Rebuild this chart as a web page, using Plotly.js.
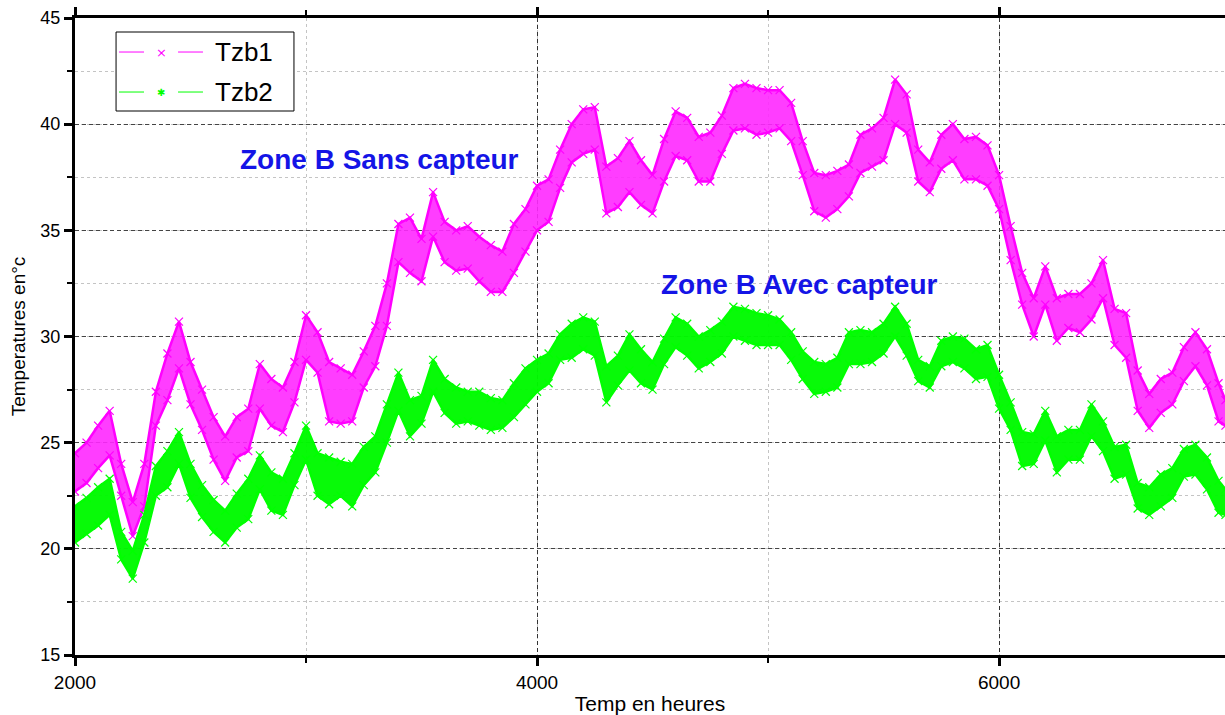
<!DOCTYPE html>
<html>
<head>
<meta charset="utf-8">
<script src="https://cdn.plot.ly/plotly-3.0.1.min.js"></script>
<style>html,body{margin:0;padding:0;background:#fff;overflow:hidden;}#chart{width:1225px;height:715px;}</style>
</head>
<body>
<div id="chart"></div>
<script>
// Sample times (hours)
const hours = [
 2000,2050,2100,2150,2200,2250,2300,2350,2400,2450,
 2500,2550,2600,2650,2700,2750,2800,2850,2900,2950,
 3000,3050,3100,3150,3200,3250,3300,3350,3400,3450,
 3500,3550,3600,3650,3700,3750,3800,3850,3900,3950,
 4000,4050,4100,4150,4200,4250,4300,4350,4400,4450,
 4500,4550,4600,4650,4700,4750,4800,4850,4900,4950,
 5000,5050,5100,5150,5200,5250,5300,5350,5400,5450,
 5500,5550,5600,5650,5700,5750,5800,5850,5900,5950,
 6000,6050,6100,6150,6200,6250,6300,6350,6400,6450,
 6500,6550,6600,6650,6700,6750,6800,6850,6900,6950,
 6980];

// Tzb1 (zone B sans capteur): daily max / daily min envelope
const tzb1High = [
 24.5,25.0,25.8,26.5,24.0,22.2,24.0,27.4,29.2,30.7,
 28.8,27.5,26.2,25.3,26.2,26.6,28.7,28.0,27.6,28.8,
 31.0,30.2,28.8,28.5,28.2,29.3,30.5,32.5,35.3,35.6,
 34.6,36.8,35.4,35.0,35.2,34.7,34.3,34.0,35.3,36.0,
 37.1,37.4,38.8,40.0,40.7,40.8,38.0,38.4,39.2,38.3,
 37.6,39.3,40.6,40.3,39.4,39.6,40.4,41.7,41.9,41.7,
 41.6,41.6,41.0,39.2,37.7,37.6,37.8,38.1,39.5,39.8,
 40.3,42.1,41.4,38.8,38.2,39.5,40.0,39.3,39.4,39.0,
 37.6,35.2,33.0,31.8,33.3,31.8,32.0,32.0,32.5,33.6,
 31.3,31.1,28.4,27.3,28.0,28.3,29.5,30.2,29.4,27.8,
 27.0];
const tzb1Low = [
 22.7,23.1,23.8,24.4,22.5,20.6,22.0,25.8,27.0,28.5,
 26.8,25.6,24.2,23.2,24.3,24.6,26.6,25.8,25.5,26.9,
 28.9,28.3,26.0,25.9,26.0,27.6,28.6,30.5,33.5,33.0,
 32.6,34.7,33.5,33.1,33.2,32.6,32.1,32.1,33.0,34.0,
 35.0,35.4,37.0,38.2,38.6,38.8,35.8,36.1,36.8,36.2,
 35.8,37.3,38.5,38.3,37.3,37.3,38.6,39.7,39.8,39.5,
 39.6,39.8,39.2,37.6,35.9,35.6,36.0,36.6,37.7,38.0,
 38.3,40.0,39.6,37.3,36.8,37.9,38.3,37.4,37.4,37.1,
 36.0,33.6,31.5,30.0,31.5,29.8,30.4,30.2,30.8,31.8,
 29.6,29.0,26.5,25.7,26.4,26.8,27.9,28.6,27.7,26.0,
 25.8];

// Tzb2 (zone B avec capteur): daily max / daily min envelope
const tzb2High = [
 22.0,22.4,22.9,23.3,20.8,19.9,21.6,23.9,24.6,25.5,
 24.0,23.0,22.3,21.8,22.6,23.3,24.4,23.6,23.3,24.5,
 25.8,24.5,24.3,24.1,24.0,24.8,25.3,26.8,28.3,27.0,
 27.2,28.9,28.0,27.6,27.4,27.4,27.1,27.0,27.8,28.5,
 28.9,29.2,30.1,30.6,30.9,30.7,28.6,29.1,30.1,29.4,
 28.8,29.9,30.9,30.6,30.0,30.3,30.7,31.4,31.3,31.1,
 31.0,30.8,30.2,29.3,28.8,28.7,29.0,30.2,30.3,30.2,
 30.6,31.4,30.6,28.9,28.6,29.8,30.0,29.9,29.4,29.6,
 28.2,26.9,25.5,25.4,26.5,25.3,25.6,25.6,26.8,26.0,
 24.8,24.9,23.1,22.9,23.5,23.8,24.7,24.9,24.3,23.2,
 22.8];
const tzb2Low = [
 20.3,20.7,21.1,21.6,19.5,18.6,20.3,22.5,22.9,24.0,
 22.4,21.5,20.8,20.3,21.0,21.4,22.8,21.8,21.6,23.0,
 24.2,22.5,22.1,22.5,22.0,23.0,23.6,25.0,26.5,25.3,
 25.9,27.4,26.4,25.9,26.0,25.8,25.6,25.7,26.2,26.8,
 27.4,27.8,28.9,29.0,29.4,29.1,26.9,27.7,28.4,27.8,
 27.5,28.7,29.5,29.1,28.5,28.8,29.2,30.0,29.8,29.6,
 29.6,29.6,28.9,28.0,27.3,27.4,27.6,28.7,28.7,28.8,
 29.2,30.0,29.1,27.9,27.6,28.6,28.8,28.5,28.0,28.1,
 26.6,25.6,23.9,24.0,25.1,23.6,24.2,24.2,25.3,24.6,
 23.3,23.5,21.9,21.6,22.0,22.4,23.4,23.5,22.8,21.7,
 21.6];

const seriesNames = ['Tzb1', 'Tzb2'];
const xTickVals = [2000, 4000, 6000];
const yTickVals = [15, 20, 25, 30, 35, 40, 45];

const MAG = '#ff00ff', GRN = '#00ff00';
const FONT = 'Liberation Sans, Arial, sans-serif';

function band(hi, lo, color, fillcolor, sym) {
  const mk = {symbol: sym, size: 8, color: color, line: {color: color, width: 1.2}};
  return [
    {x: hours, y: hi, type: 'scatter', mode: 'lines+markers', line: {color: color, width: 2.5},
     marker: mk, showlegend: false, hoverinfo: 'skip'},
    {x: hours, y: lo, type: 'scatter', mode: 'lines+markers', line: {color: color, width: 2.5},
     marker: mk, fill: 'tonexty', fillcolor: fillcolor, showlegend: false, hoverinfo: 'skip'}
  ];
}

const data = [].concat(
  band(tzb1High, tzb1Low, MAG, 'rgba(255,40,255,0.9)', 'x-thin'),
  band(tzb2High, tzb2Low, GRN, 'rgba(0,250,0,0.97)', 'x-thin')
);

// plot area: x 75..1225 px, y 18..655 px
const layout = {
  width: 1225, height: 715,
  margin: {l: 75, r: 0, t: 18, b: 60},
  paper_bgcolor: '#fff', plot_bgcolor: '#fff',
  showlegend: false,
  font: {family: FONT, color: '#000'},
  xaxis: {
    range: [2000, 6978], tickmode: 'array', tickvals: xTickVals, ticktext: xTickVals.map(String),
    ticks: 'outside', ticklen: 8, tickwidth: 3, tickcolor: '#000',
    showline: true, linewidth: 3, linecolor: '#000', mirror: 'ticks',
    showgrid: true, gridcolor: '#333', gridwidth: 1, griddash: '4px,3px',
    zeroline: false, tickfont: {size: 19, family: FONT},
    minor: {dtick: 1000, tick0: 2000, ticks: 'outside', ticklen: 5, tickwidth: 2, tickcolor: '#000',
            showgrid: true, gridcolor: '#c4c4c4', gridwidth: 1, griddash: 'dot'},
    title: {text: 'Temp en heures', font: {size: 21, family: FONT}, standoff: 10}
  },
  yaxis: {
    range: [15, 45], tickmode: 'array', tickvals: yTickVals, ticktext: yTickVals.map(String),
    ticks: 'outside', ticklen: 8, tickwidth: 3, tickcolor: '#000',
    showline: true, linewidth: 3, linecolor: '#000', mirror: false,
    showgrid: true, gridcolor: '#444', gridwidth: 1, griddash: '4px,3px',
    zeroline: false, tickfont: {size: 18, family: FONT},
    minor: {dtick: 2.5, tick0: 15, ticks: 'outside', ticklen: 5, tickwidth: 2, tickcolor: '#000',
            showgrid: true, gridcolor: '#c4c4c4', gridwidth: 1, griddash: 'dot'},
    title: {text: 'Temperatures en°c', font: {size: 19, family: FONT}, standoff: 10}
  },
  shapes: [
    // white boxes behind the zone labels (hide grid lines)
    {type: 'rect', xref: 'paper', yref: 'paper', x0: 0.1348, x1: 0.3957, y0: 0.7394, y1: 0.8148,
     fillcolor: '#fff', line: {width: 0}, layer: 'between'},
    {type: 'rect', xref: 'paper', yref: 'paper', x0: 0.4913, x1: 0.7696, y0: 0.5479, y1: 0.617,
     fillcolor: '#fff', line: {width: 0}, layer: 'between'},
    // legend box
    {type: 'rect', xref: 'paper', yref: 'paper', x0: 0.0357, x1: 0.1904, y0: 0.854, y1: 0.978,
     fillcolor: '#fff', line: {color: '#000', width: 1}, layer: 'above'},
    {type: 'line', xref: 'paper', yref: 'paper', x0: 0.0383, x1: 0.0600, y0: 0.9466, y1: 0.9466, line: {color: MAG, width: 1}},
    {type: 'line', xref: 'paper', yref: 'paper', x0: 0.0896, x1: 0.1113, y0: 0.9466, y1: 0.9466, line: {color: MAG, width: 1}},
    {type: 'line', xref: 'paper', yref: 'paper', x0: 0.0383, x1: 0.0600, y0: 0.8838, y1: 0.8838, line: {color: GRN, width: 1}},
    {type: 'line', xref: 'paper', yref: 'paper', x0: 0.0896, x1: 0.1113, y0: 0.8838, y1: 0.8838, line: {color: GRN, width: 1}}
  ],
  annotations: [
    {xref: 'paper', yref: 'paper', x: 0.0748, y: 0.9466, text: '×', showarrow: false,
     font: {size: 13, color: MAG, family: 'DejaVu Sans'}, xanchor: 'center', yanchor: 'middle'},
    {xref: 'paper', yref: 'paper', x: 0.0748, y: 0.8838, text: '✱', showarrow: false,
     font: {size: 10, color: GRN, family: 'DejaVu Sans'}, xanchor: 'center', yanchor: 'middle'},
    {xref: 'paper', yref: 'paper', x: 0.12, y: 0.9466, text: seriesNames[0], showarrow: false,
     font: {size: 26, color: '#000', family: FONT}, xanchor: 'left', yanchor: 'middle'},
    {xref: 'paper', yref: 'paper', x: 0.12, y: 0.8838, text: seriesNames[1], showarrow: false,
     font: {size: 26, color: '#000', family: FONT}, xanchor: 'left', yanchor: 'middle'},
    {xref: 'paper', yref: 'paper', x: 0.2652, y: 0.7771, text: '<b>Zone B Sans capteur</b>', showarrow: false,
     font: {size: 28, color: '#1414e6', family: FONT}, xanchor: 'center', yanchor: 'middle'},
    {xref: 'paper', yref: 'paper', x: 0.6296, y: 0.5824, text: '<b>Zone B Avec capteur</b>', showarrow: false,
     font: {size: 28, color: '#1414e6', family: FONT}, xanchor: 'center', yanchor: 'middle'}
  ]
};

Plotly.newPlot('chart', data, layout, {displayModeBar: false, staticPlot: true});
</script>
</body>
</html>
